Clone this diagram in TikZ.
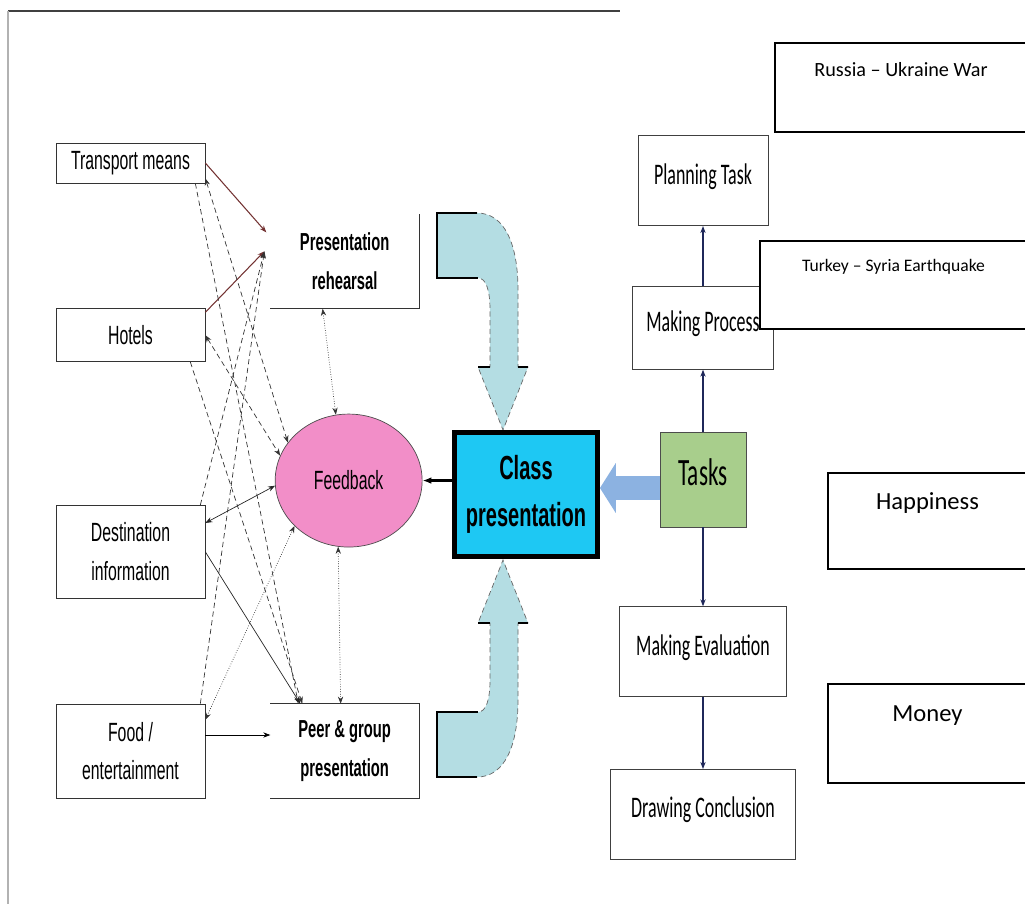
\documentclass[tikz,border=0pt]{standalone}
\usepackage{fontspec}
\usepackage{tikz}
\usetikzlibrary{shapes.geometric, arrows.meta, positioning, calc}

\newfontfamily\narrowfont[FakeStretch=0.6]{Liberation Sans}
\newfontfamily\condfont[FakeStretch=0.6]{Carlito}
\newfontfamily\calfont{Carlito}

\definecolor{feedpink}{RGB}{242,142,200}
\definecolor{classblue}{RGB}{30,200,243}
\definecolor{taskgreen}{RGB}{168,206,140}
\definecolor{arrowblue}{RGB}{140,178,225}
\definecolor{bendcyan}{RGB}{180,221,227}
\definecolor{navy}{RGB}{31,40,90}
\definecolor{rustline}{RGB}{115,50,50}

% bent block arrow above the class box (mirrored for the lower one)
\newcommand{\curvedblock}{%
  \path[bendarrow] (437,213) -- (477,213) .. controls (505,213) and (518,245) .. (518,290)
    -- (518,367) -- (528,367) -- (503,430) -- (478,367) -- (490,367) -- (490,310)
    .. controls (490,290) and (486,278) .. (478,278) -- (437,278) -- cycle;
  \draw[black, line width=0.9pt] (477,213) -- (437,213) -- (437,278) -- (478,278);
  \draw[black, line width=0.9pt] (478,367) -- (490,367) (518,367) -- (528,367);
}

\begin{document}
\begin{tikzpicture}[
    x=0.02cm, y=-0.02cm,
    node distance=1cm,
    leftbox/.style={rectangle, draw=black!80, fill=white, minimum width=2.98cm, align=center, font=\narrowfont\fontsize{15}{22}\selectfont},
    midbox/.style={rectangle, minimum width=2.96cm, minimum height=1.88cm, align=center, font=\narrowfont\bfseries\fontsize{14}{22}\selectfont},
    flowbox/.style={rectangle, draw=black!75, fill=white, minimum height=1.8cm, text depth=8pt, align=center, font=\condfont\fontsize{17}{19}\selectfont},
    notebox/.style={rectangle, draw=black, line width=0.9pt, fill=white},
    bendarrow/.style={fill=bendcyan, draw=black!60, densely dashed, thin},
    link/.style={gray!40!black, densely dashed, thin},
    solidlink/.style={gray!30!black, thin},
    dotlink/.style={gray!40!black, densely dotted, thin},
    redlink/.style={rustline, semithick},
    onehead/.style={-{Stealth[length=4pt, width=3pt]}},
    bothheads/.style={{Stealth[length=4pt, width=3pt]}-{Stealth[length=4pt, width=3pt]}},
    flow/.style={navy, line width=0.9pt, -{Stealth[length=4pt, width=3pt]}},
]
    \useasboundingbox (0,0) rectangle (1025,904);

    % page frame
    \draw[black!75, line width=1.2pt] (8,11) -- (620,11);
    \draw[gray!60, line width=1.2pt] (8,11) -- (8,904);

    % left column
    \node (transport) [leftbox, minimum height=0.8cm] at (130.5,163) {Transport means};
    \node (hotels) [leftbox, minimum height=1.06cm, below=2.5cm of transport] {Hotels};
    \node (destination) [leftbox, minimum height=1.86cm, below=2.86cm of hotels] {Destination\\information};
    \node (food) [leftbox, minimum height=1.88cm, below=2.1cm of destination] {Food /\\entertainment};

    % middle column
    \node (peer) [midbox, right=1.3cm of food] {Peer \& group\\presentation};
    \node (rehearsal) [midbox, above=7.9cm of peer] {Presentation\\rehearsal};
    \node (feedback) [ellipse, draw=black!70, fill=feedpink, minimum width=2.94cm, minimum height=2.66cm,
      font=\narrowfont\fontsize{15}{17}\selectfont, below=2.1cm of rehearsal, xshift=0.08cm] {Feedback};
    \draw[black!80] (rehearsal.north east) -- (rehearsal.south east) -- (rehearsal.south west);
    \draw[black!80] (peer.north west) -- (peer.north east) -- (peer.south east) -- (peer.south west);

    % bent block arrows
    \curvedblock
    \begin{scope}[shift={(0,990)}, yscale=-1]
      \curvedblock
    \end{scope}

    \node (classpres) [rectangle, draw=black, line width=2.8pt, fill=classblue, minimum width=2.86cm, minimum height=2.48cm,
      align=center, font=\narrowfont\bfseries\fontsize{19}{27}\selectfont] at (526,494.5) {Class\\presentation};

    % right column
    \node (tasks) [rectangle, draw=black!70, fill=taskgreen, minimum width=1.72cm, minimum height=1.9cm, text depth=8.5pt,
      font=\condfont\fontsize{22}{24}\selectfont] at (703,479.5) {Tasks};
    \node (process) [flowbox, minimum width=2.82cm, minimum height=1.66cm, above=1.24cm of tasks] {Making Process};
    \node (planning) [flowbox, minimum width=2.6cm, above=1.2cm of process] {Planning Task};
    \node (evaluation) [flowbox, minimum width=3.34cm, below=1.58cm of tasks] {Making Evaluation};
    \node (conclusion) [flowbox, minimum width=3.7cm, below=1.44cm of evaluation] {Drawing Conclusion};

    % boxes on the right edge
    \node (russia) [notebox, minimum width=5.04cm, minimum height=1.78cm, text depth=20pt,
      font=\calfont\fontsize{11.5}{13}\selectfont] at (901,87.5) {Russia – Ukraine War};
    \node (turkey) [notebox, minimum width=5.34cm, minimum height=1.76cm, text depth=22pt,
      font=\calfont\fontsize{10}{12}\selectfont] at (893.5,285) {Turkey – Syria Earthquake};
    \node (happiness) [notebox, minimum width=3.98cm, minimum height=1.92cm, text depth=23pt,
      font=\calfont\fontsize{14}{16}\selectfont] at (927.5,521) {Happiness};
    \node (money) [notebox, minimum width=3.98cm, minimum height=1.98cm, text depth=23pt,
      font=\calfont\fontsize{14}{16}\selectfont] at (927.5,733.5) {Money};

    % hub points left of the rehearsal box
    \coordinate (rtop) at ($(rehearsal.west)+(-4,-29)$);
    \coordinate (rhub) at ($(rehearsal.west)+(-6,-10)$);
    \coordinate (tlvl) at (0,488);

    \draw[redlink, onehead] (transport.east) -- (rtop);
    \draw[redlink, onehead] ($(hotels.north east)+(0,4)$) -- (rhub);
    \draw[link, bothheads] ($(transport.south east)+(0,-5)$) -- (feedback.148);
    \draw[link, onehead] ($(transport.south east)+(-10,0)$) -- ($(peer.north west)+(28,0)$);
    \draw[link, bothheads] (hotels.east) -- (feedback.160);
    \draw[link, onehead] ($(hotels.south east)+(-15,0)$) -- ($(peer.north west)+(32,0)$);
    \draw[solidlink, bothheads] ($(destination.north east)+(0,18)$) -- (feedback.184);
    \draw[link, onehead] ($(destination.north east)+(-5,0)$) -- (rhub);
    \draw[solidlink, onehead] (destination.east) -- ($(peer.north west)+(30,0)$);
    \draw[link, onehead] ($(food.north east)+(-5,0)$) -- (rhub);
    \draw[dotlink, bothheads] ($(food.north east)+(0,16)$) -- (feedback.220);
    \draw[black, thin, onehead] ($(food.east)+(0,-16)$) -- ($(peer.west)+(0,-16)$);
    \draw[dotlink, bothheads] ($(rehearsal.south)+(-22,0)$) -- (feedback.101);
    \draw[dotlink, bothheads] (feedback.261) -- ($(peer.north)+(-4,0)$);

    \draw[black, line width=2pt, -{Latex[length=5pt]}] (classpres.west |- feedback.east) -- (feedback.east);
    \draw[arrowblue, line width=13.6pt, -{Triangle[width=28pt, length=9pt]}] (tasks.west |- tlvl) -- (classpres.east |- tlvl);

    \draw[flow] (tasks) -- (process);
    \draw[flow] (process) -- (planning);
    \draw[flow] (tasks) -- (evaluation);
    \draw[flow] (evaluation) -- (conclusion);

\end{tikzpicture}
\end{document}
